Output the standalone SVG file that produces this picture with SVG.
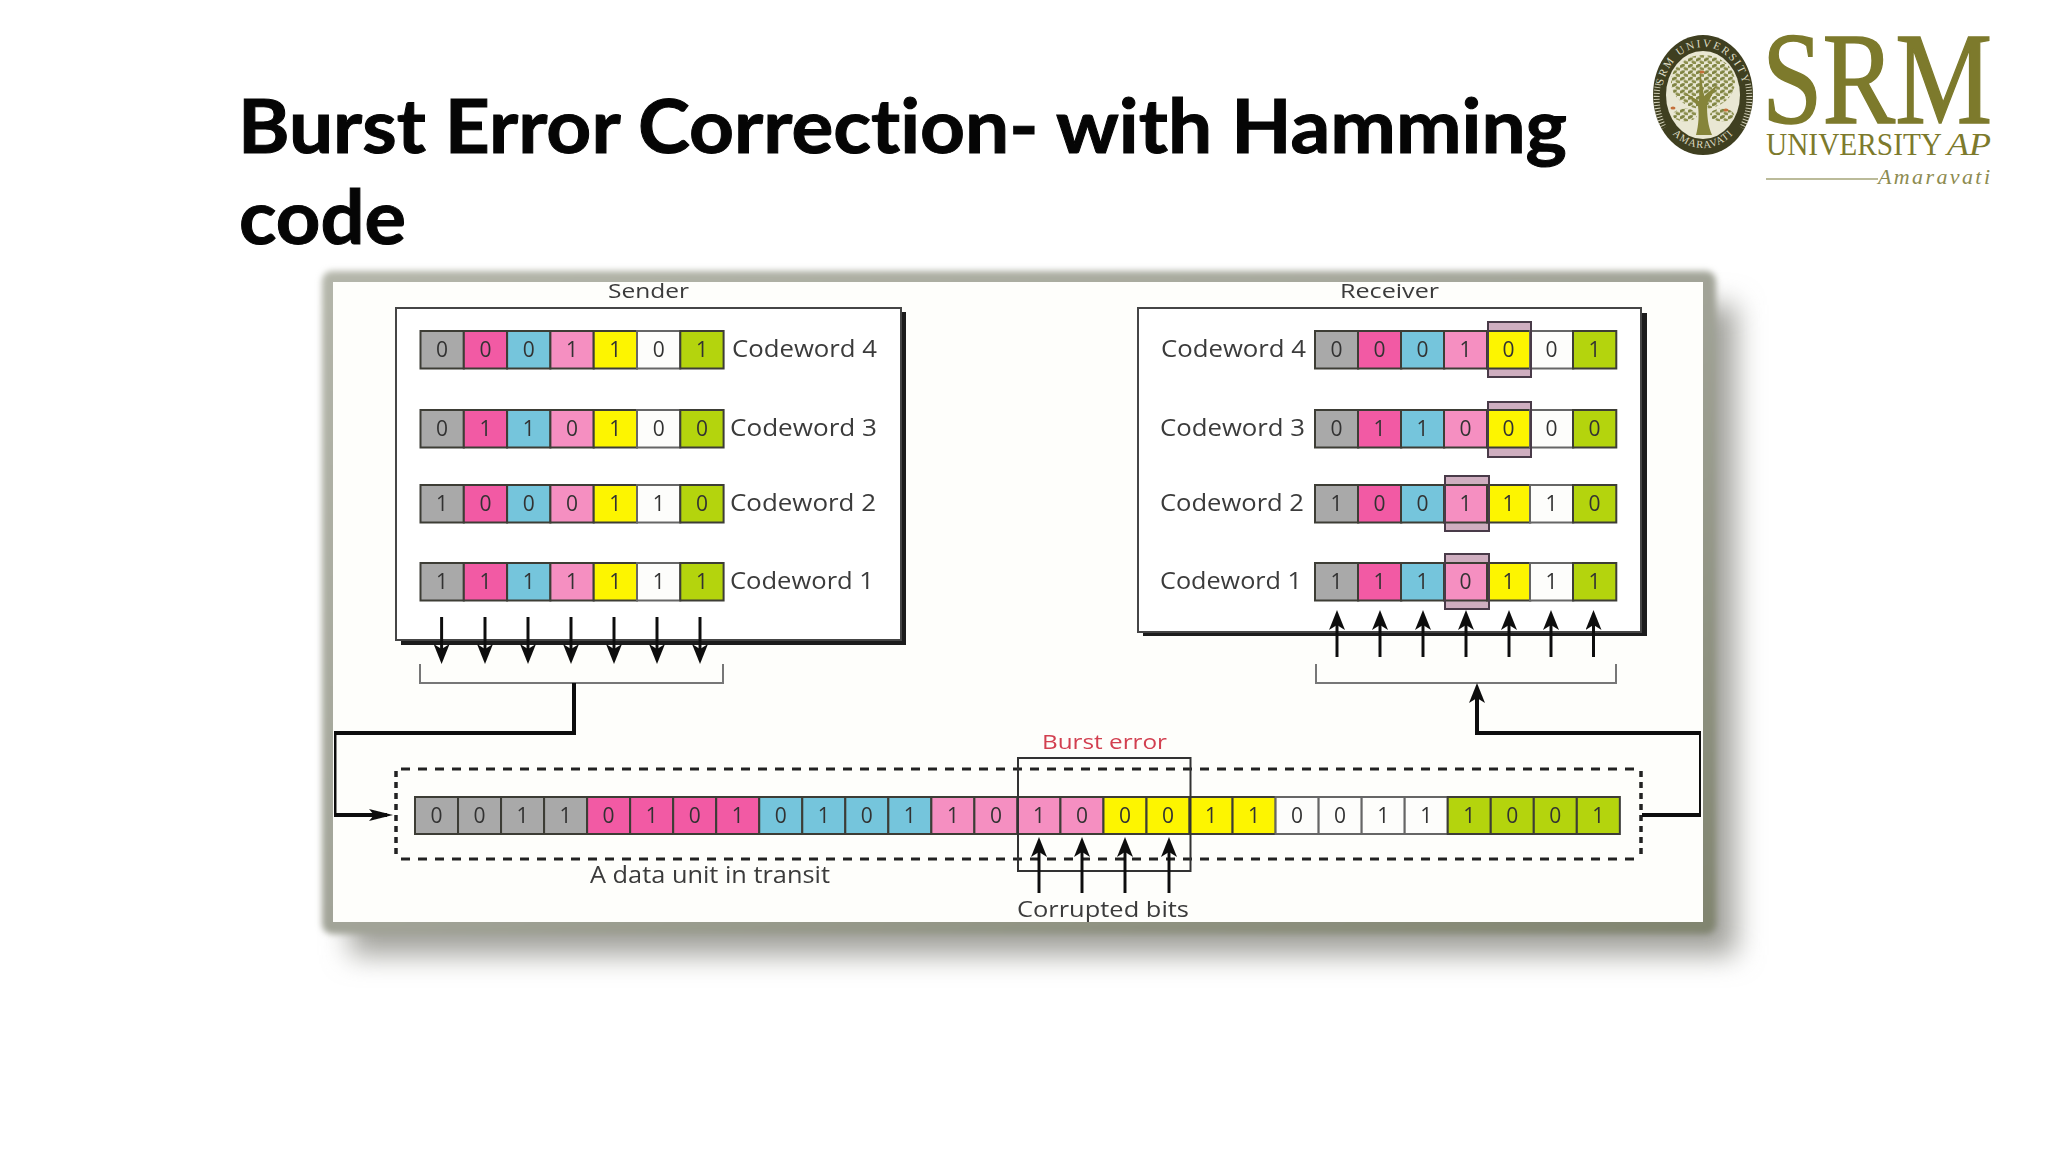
<svg xmlns="http://www.w3.org/2000/svg" width="2048" height="1152" viewBox="0 0 2048 1152">
<style>
text{font-family:"Open Sans","Noto Sans","DejaVu Sans",sans-serif;fill:#3a3a3a}
.title{font-family:Lato,"Open Sans",sans-serif;font-weight:700;font-size:75px;fill:#050505;stroke:#050505;stroke-width:1;font-variant-ligatures:none}
.lab{font-size:23px}
.d{font-size:21px;font-weight:500;text-anchor:middle;fill:#333}
rect.c{stroke:#3c3c36;stroke-width:2;height:37.5px;width:43.3px}
rect.t{stroke:#3c3c36;stroke-width:2;height:37px;width:43.03px}
.g{fill:#a9a9a9}.m{fill:#f25aa4}.b{fill:#74c5dc}.p{fill:#f58fc1}.y{fill:#fdf500}.w{fill:#fdfdfb;stroke:#666 !important}.l{fill:#b4d40c}
.hf{fill:#cfaec0;stroke:none}.hs{fill:none;stroke:#4a3a48;stroke-width:2}
.ln{fill:none;stroke:#111;stroke-width:3}
.th{fill:none;stroke:#111;stroke-width:4}
.br{fill:none;stroke:#777;stroke-width:2}
.sh{fill:#1c1c1c}.bx{fill:#fff;stroke:#444;stroke-width:2}
.serif{font-family:"Liberation Serif",serif;fill:#7d7a2c}
.sl{font-family:"Liberation Serif",serif;fill:#dedcc4;text-anchor:middle}
</style>
<defs>
<filter id="b2" x="-5%" y="-5%" width="110%" height="110%"><feGaussianBlur stdDeviation="3"/></filter>
<filter id="b14" x="-10%" y="-10%" width="120%" height="120%"><feGaussianBlur stdDeviation="14"/></filter>
<filter id="soft" x="0" y="0" width="100%" height="100%"><feGaussianBlur stdDeviation="0.6"/></filter>
<linearGradient id="fr" x1="0" y1="0" x2="1" y2="1"><stop offset="0" stop-color="#b4b6aa"/><stop offset="0.5" stop-color="#a2a498"/><stop offset="1" stop-color="#80846f"/></linearGradient>
<marker id="hd" markerUnits="userSpaceOnUse" viewBox="0 0 20 16" markerWidth="20" markerHeight="16" refX="15" refY="8" orient="auto"><path d="M0 0L20 8L0 16L5 8Z" fill="#111"/></marker>
<marker id="hh" markerUnits="userSpaceOnUse" viewBox="0 0 24 12" markerWidth="24" markerHeight="12" refX="18" refY="6" orient="auto"><path d="M0 0L24 6L0 12L5 6Z" fill="#111"/></marker>
<pattern id="leaves" patternUnits="userSpaceOnUse" width="8" height="6.4"><ellipse cx="2.2" cy="1.8" rx="2.9" ry="1.6" fill="#7f8442" transform="rotate(-25 2.2 1.8)"/><ellipse cx="6.2" cy="5" rx="2.9" ry="1.6" fill="#8b8e4c" transform="rotate(25 6.2 5)"/></pattern>
</defs>

<rect width="2048" height="1152" fill="#fff"/>
<g id="title">
<text class="title" x="238" y="153" textLength="1329" lengthAdjust="spacingAndGlyphs">Burst Error Correction- with Hamming</text>
<text class="title" x="239" y="244" textLength="167" lengthAdjust="spacingAndGlyphs">code</text>
</g>

<g id="logo">
<ellipse cx="1703" cy="95" rx="50" ry="60" fill="#3f3f20"/>
<ellipse cx="1703" cy="95" rx="37" ry="44" fill="#e9e7d3"/>
<path d="M1658 84A46 56 0 0 0 1664 128M1748 84A46 56 0 0 1 1742 128" fill="none" stroke="#cfcdb6" stroke-width="6" stroke-dasharray="1 2"/>
<path id="arcT" d="M1661 100A42 53 0 0 1 1745 100" fill="none"/>
<path id="arcB" d="M1657 92A46 56 0 0 0 1749 92" fill="none"/>
<text class="sl" font-size="11" letter-spacing="2"><textPath href="#arcT" startOffset="50%">SRM UNIVERSITY</textPath></text>
<text class="sl" font-size="10.5" letter-spacing="1"><textPath href="#arcB" startOffset="50%">AMARAVATI</textPath></text>
<ellipse cx="1703" cy="82" rx="32" ry="27" fill="url(#leaves)"/>
<ellipse cx="1685" cy="115" rx="12" ry="6.5" fill="url(#leaves)"/>
<ellipse cx="1722" cy="115" rx="12" ry="6.5" fill="url(#leaves)"/>
<path d="M1696 135C1699 124 1699 114 1698 106L1684 92L1699 101L1700 70L1704 96L1718 84L1707 104C1707 116 1708 126 1712 135Z" fill="#85843a"/>
<ellipse cx="1702" cy="72" rx="2.5" ry="1.6" fill="#c4703a"/><ellipse cx="1673" cy="108" rx="2.5" ry="1.6" fill="#c4703a"/><ellipse cx="1726" cy="110" rx="2.5" ry="1.6" fill="#c4703a"/>
<text class="serif" x="1762" y="123" font-size="131" textLength="230" lengthAdjust="spacingAndGlyphs" stroke="#7d7a2c" stroke-width="1.5">SRM</text>
<text class="serif" x="1766" y="155" font-size="32" textLength="176" lengthAdjust="spacingAndGlyphs">UNIVERSITY</text>
<text class="serif" x="1947" y="155" font-size="32" font-style="italic" textLength="44" lengthAdjust="spacingAndGlyphs">AP</text>
<path d="M1766 179H1878" stroke="#a5a478" stroke-width="1.5"/>
<text class="serif" x="1878" y="184" font-size="22" font-style="italic" textLength="112" style="fill:#8d8b50">Amaravati</text>
</g>

<g id="panel-shadow">
<rect x="350" y="305" width="1386" height="650" fill="#a2a29c" filter="url(#b14)"/>
<rect x="322" y="271" width="1394" height="663" rx="10" fill="url(#fr)" filter="url(#b2)"/>
</g>
<rect id="panel" x="333" y="282" width="1370" height="640" fill="#fefefb"/>

<g filter="url(#soft)">
<g id="sender">
<text class="lab" x="608" y="298" textLength="81" lengthAdjust="spacingAndGlyphs" style="font-size:20px">Sender</text>
<rect class="sh" x="401" y="312" width="505" height="333"/>
<rect class="bx" x="396" y="308" width="505" height="332"/>
<path class="br" d="M420 664V683H723V664"/>
</g>
<g id="sender-cw4" transform="translate(420.5 331)">
<rect class="c g" x="0"/><rect class="c m" x="43.3"/><rect class="c b" x="86.6"/><rect class="c p" x="129.9"/><rect class="c y" x="173.2"/><rect class="c w" x="216.5"/><rect class="c l" x="259.8"/>
<text class="d" x="21.6" y="25.5">0</text><text class="d" x="65" y="25.5">0</text><text class="d" x="108.2" y="25.5">0</text><text class="d" x="151.5" y="25.5">1</text><text class="d" x="194.8" y="25.5">1</text><text class="d" x="238.2" y="25.5">0</text><text class="d" x="281.5" y="25.5">1</text>
<text class="lab" x="311.5" y="26" textLength="145" lengthAdjust="spacingAndGlyphs">Codeword 4</text>
</g>
<g id="sender-cw3" transform="translate(420.5 410)">
<rect class="c g" x="0"/><rect class="c m" x="43.3"/><rect class="c b" x="86.6"/><rect class="c p" x="129.9"/><rect class="c y" x="173.2"/><rect class="c w" x="216.5"/><rect class="c l" x="259.8"/>
<text class="d" x="21.6" y="25.5">0</text><text class="d" x="65" y="25.5">1</text><text class="d" x="108.2" y="25.5">1</text><text class="d" x="151.5" y="25.5">0</text><text class="d" x="194.8" y="25.5">1</text><text class="d" x="238.2" y="25.5">0</text><text class="d" x="281.5" y="25.5">0</text>
<text class="lab" x="309.5" y="26" textLength="147" lengthAdjust="spacingAndGlyphs">Codeword 3</text>
</g>
<g id="sender-cw2" transform="translate(420.5 485)">
<rect class="c g" x="0"/><rect class="c m" x="43.3"/><rect class="c b" x="86.6"/><rect class="c p" x="129.9"/><rect class="c y" x="173.2"/><rect class="c w" x="216.5"/><rect class="c l" x="259.8"/>
<text class="d" x="21.6" y="25.5">1</text><text class="d" x="65" y="25.5">0</text><text class="d" x="108.2" y="25.5">0</text><text class="d" x="151.5" y="25.5">0</text><text class="d" x="194.8" y="25.5">1</text><text class="d" x="238.2" y="25.5">1</text><text class="d" x="281.5" y="25.5">0</text>
<text class="lab" x="309.5" y="26" textLength="146" lengthAdjust="spacingAndGlyphs">Codeword 2</text>
</g>
<g id="sender-cw1" transform="translate(420.5 563)">
<rect class="c g" x="0"/><rect class="c m" x="43.3"/><rect class="c b" x="86.6"/><rect class="c p" x="129.9"/><rect class="c y" x="173.2"/><rect class="c w" x="216.5"/><rect class="c l" x="259.8"/>
<text class="d" x="21.6" y="25.5">1</text><text class="d" x="65" y="25.5">1</text><text class="d" x="108.2" y="25.5">1</text><text class="d" x="151.5" y="25.5">1</text><text class="d" x="194.8" y="25.5">1</text><text class="d" x="238.2" y="25.5">1</text><text class="d" x="281.5" y="25.5">1</text>
<text class="lab" x="309.5" y="26" textLength="144" lengthAdjust="spacingAndGlyphs">Codeword 1</text>
</g>

<g id="receiver">
<text class="lab" x="1340" y="298" textLength="99" lengthAdjust="spacingAndGlyphs" style="font-size:20px">Receiver</text>
<rect class="sh" x="1143" y="313" width="504" height="323"/>
<rect class="bx" x="1138" y="308" width="503" height="324"/>
<path class="br" d="M1316 664V683H1616V664"/>
</g>
<g id="receiver-cw4" transform="translate(1315 331)">
<rect class="hf" x="173" y="-9" width="43" height="55"/>
<rect class="c g" x="0"/><rect class="c m" x="43"/><rect class="c b" x="86"/><rect class="c p" x="129"/><rect class="c y" x="172"/><rect class="c w" x="215"/><rect class="c l" x="258"/>
<rect class="hs" x="173" y="-9" width="43" height="55"/>
<text class="d" x="21.5" y="25.5">0</text><text class="d" x="64.5" y="25.5">0</text><text class="d" x="107.5" y="25.5">0</text><text class="d" x="150.5" y="25.5">1</text><text class="d" x="193.5" y="25.5">0</text><text class="d" x="236.5" y="25.5">0</text><text class="d" x="279.5" y="25.5">1</text>
<text class="lab" x="-154" y="26" textLength="145" lengthAdjust="spacingAndGlyphs">Codeword 4</text>
</g>
<g id="receiver-cw3" transform="translate(1315 410)">
<rect class="hf" x="173" y="-8" width="43" height="55"/>
<rect class="c g" x="0"/><rect class="c m" x="43"/><rect class="c b" x="86"/><rect class="c p" x="129"/><rect class="c y" x="172"/><rect class="c w" x="215"/><rect class="c l" x="258"/>
<rect class="hs" x="173" y="-8" width="43" height="55"/>
<text class="d" x="21.5" y="25.5">0</text><text class="d" x="64.5" y="25.5">1</text><text class="d" x="107.5" y="25.5">1</text><text class="d" x="150.5" y="25.5">0</text><text class="d" x="193.5" y="25.5">0</text><text class="d" x="236.5" y="25.5">0</text><text class="d" x="279.5" y="25.5">0</text>
<text class="lab" x="-155" y="26" textLength="145" lengthAdjust="spacingAndGlyphs">Codeword 3</text>
</g>
<g id="receiver-cw2" transform="translate(1315 485)">
<rect class="hf" x="130" y="-9" width="44" height="55"/>
<rect class="c g" x="0"/><rect class="c m" x="43"/><rect class="c b" x="86"/><rect class="c p" x="129"/><rect class="c y" x="172"/><rect class="c w" x="215"/><rect class="c l" x="258"/>
<rect class="hs" x="130" y="-9" width="44" height="55"/>
<text class="d" x="21.5" y="25.5">1</text><text class="d" x="64.5" y="25.5">0</text><text class="d" x="107.5" y="25.5">0</text><text class="d" x="150.5" y="25.5">1</text><text class="d" x="193.5" y="25.5">1</text><text class="d" x="236.5" y="25.5">1</text><text class="d" x="279.5" y="25.5">0</text>
<text class="lab" x="-155" y="26" textLength="144" lengthAdjust="spacingAndGlyphs">Codeword 2</text>
</g>
<g id="receiver-cw1" transform="translate(1315 563)">
<rect class="hf" x="130" y="-9" width="44" height="55"/>
<rect class="c g" x="0"/><rect class="c m" x="43"/><rect class="c b" x="86"/><rect class="c p" x="129"/><rect class="c y" x="172"/><rect class="c w" x="215"/><rect class="c l" x="258"/>
<rect class="hs" x="130" y="-9" width="44" height="55"/>
<text class="d" x="21.5" y="25.5">1</text><text class="d" x="64.5" y="25.5">1</text><text class="d" x="107.5" y="25.5">1</text><text class="d" x="150.5" y="25.5">0</text><text class="d" x="193.5" y="25.5">1</text><text class="d" x="236.5" y="25.5">1</text><text class="d" x="279.5" y="25.5">1</text>
<text class="lab" x="-155" y="26" textLength="142" lengthAdjust="spacingAndGlyphs">Codeword 1</text>
</g>

<g id="transit">
<path d="M401 769H1641M401 859H1641" fill="none" stroke="#222" stroke-width="3" stroke-dasharray="9 8"/>
<path d="M396 771V859M1641 771V859" fill="none" stroke="#222" stroke-width="3.5" stroke-dasharray="6 5"/>
<g transform="translate(415 797)">
<rect class="t g" x="0"/><rect class="t g" x="43.03"/><rect class="t g" x="86.06"/><rect class="t g" x="129.09"/>
<rect class="t m" x="172.12"/><rect class="t m" x="215.15"/><rect class="t m" x="258.18"/><rect class="t m" x="301.21"/>
<rect class="t b" x="344.24"/><rect class="t b" x="387.27"/><rect class="t b" x="430.3"/><rect class="t b" x="473.33"/>
<rect class="t p" x="516.36"/><rect class="t p" x="559.39"/><rect class="t p" x="602.42"/><rect class="t p" x="645.45"/>
<rect class="t y" x="688.48"/><rect class="t y" x="731.51"/><rect class="t y" x="774.54"/><rect class="t y" x="817.57"/>
<rect class="t w" x="860.6"/><rect class="t w" x="903.63"/><rect class="t w" x="946.66"/><rect class="t w" x="989.69"/>
<rect class="t l" x="1032.72"/><rect class="t l" x="1075.75"/><rect class="t l" x="1118.78"/><rect class="t l" x="1161.81"/>
<text class="d" x="21.5" y="25.5">0</text><text class="d" x="64.5" y="25.5">0</text><text class="d" x="107.6" y="25.5">1</text><text class="d" x="150.6" y="25.5">1</text>
<text class="d" x="193.6" y="25.5">0</text><text class="d" x="236.7" y="25.5">1</text><text class="d" x="279.7" y="25.5">0</text><text class="d" x="322.7" y="25.5">1</text>
<text class="d" x="365.8" y="25.5">0</text><text class="d" x="408.8" y="25.5">1</text><text class="d" x="451.8" y="25.5">0</text><text class="d" x="494.8" y="25.5">1</text>
<text class="d" x="537.9" y="25.5">1</text><text class="d" x="580.9" y="25.5">0</text><text class="d" x="623.9" y="25.5">1</text><text class="d" x="667" y="25.5">0</text>
<text class="d" x="710" y="25.5">0</text><text class="d" x="753" y="25.5">0</text><text class="d" x="796.1" y="25.5">1</text><text class="d" x="839.1" y="25.5">1</text>
<text class="d" x="882.1" y="25.5">0</text><text class="d" x="925.1" y="25.5">0</text><text class="d" x="968.2" y="25.5">1</text><text class="d" x="1011.2" y="25.5">1</text>
<text class="d" x="1054.2" y="25.5">1</text><text class="d" x="1097.3" y="25.5">0</text><text class="d" x="1140.3" y="25.5">0</text><text class="d" x="1183.3" y="25.5">1</text>
</g>
<text class="lab" x="590" y="883" textLength="240" lengthAdjust="spacingAndGlyphs">A data unit in transit</text>
</g>

<g id="burst">
<rect x="1018" y="758" width="172.5" height="113" fill="none" stroke="#333" stroke-width="2"/>
<text class="lab" x="1042" y="749" textLength="125" lengthAdjust="spacingAndGlyphs" style="fill:#d23f50;font-size:20px">Burst error</text>
<text class="lab" x="1017" y="917" textLength="172" lengthAdjust="spacingAndGlyphs" style="font-size:21px">Corrupted bits</text>
</g>

<g id="connectors">
<g class="ln">
<path d="M441.6 617V659" marker-end="url(#hd)"/><path d="M485 617V659" marker-end="url(#hd)"/><path d="M528 617V659" marker-end="url(#hd)"/><path d="M571 617V659" marker-end="url(#hd)"/><path d="M614 617V659" marker-end="url(#hd)"/><path d="M657 617V659" marker-end="url(#hd)"/><path d="M700 617V659" marker-end="url(#hd)"/>
<path d="M1337 657V615" marker-end="url(#hd)"/><path d="M1380 657V615" marker-end="url(#hd)"/><path d="M1423 657V615" marker-end="url(#hd)"/><path d="M1466 657V615" marker-end="url(#hd)"/><path d="M1509 657V615" marker-end="url(#hd)"/><path d="M1551 657V615" marker-end="url(#hd)"/><path d="M1593.5 657V615" marker-end="url(#hd)"/>
<path d="M1039 893V842" marker-end="url(#hd)"/><path d="M1082 893V842" marker-end="url(#hd)"/><path d="M1125 893V842" marker-end="url(#hd)"/><path d="M1169 893V842" marker-end="url(#hd)"/>
</g>
<path class="th" d="M574 683V733H334.5V815H387" marker-end="url(#hh)"/>
<path class="th" d="M1642 815H1701V733H1477V688" marker-end="url(#hd)"/>
</g>
</g>
</svg>
